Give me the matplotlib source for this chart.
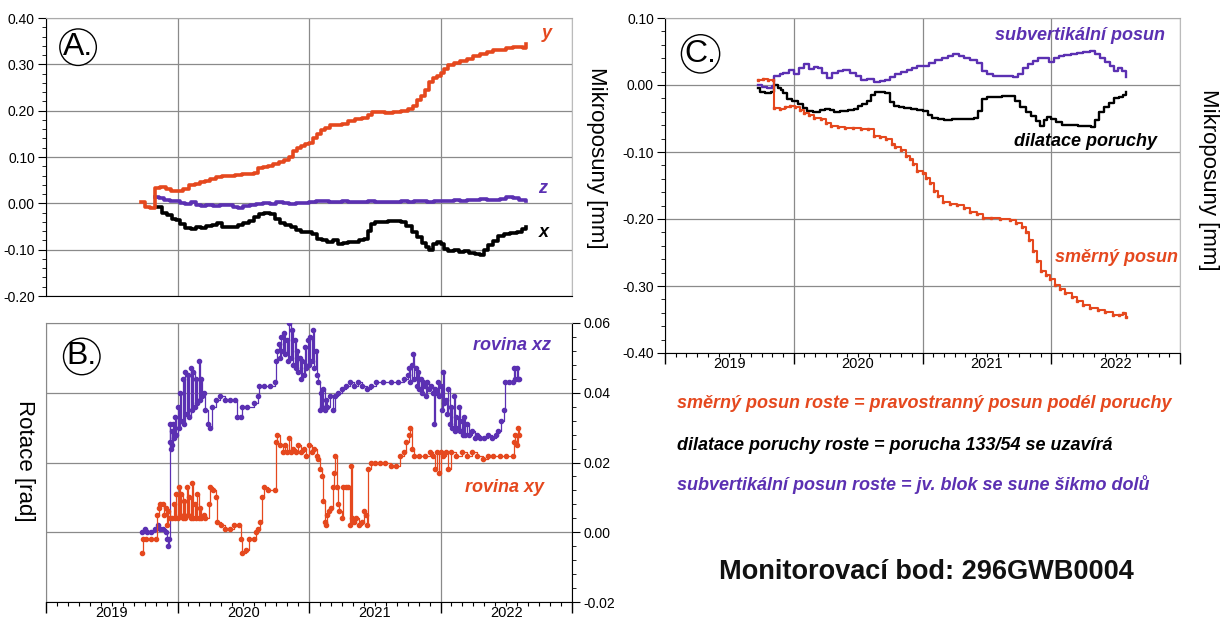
import matplotlib
matplotlib.use("Agg")
import matplotlib.pyplot as plt
from matplotlib.ticker import MultipleLocator, FixedLocator, NullFormatter

plt.rcParams['font.family'] = ['Liberation Sans', 'DejaVu Sans']

ORANGE = '#E5481E'
PURPLE = '#5B30B2'
BLACK = '#000000'
GRID = '#8a8a8a'

YEARS = [2019, 2020, 2021, 2022]
YEAR_LABELS = ['2019', '2020', '2021', '2022']

# ---------------- Panel A: Mikroposuny x, y, z ----------------
A_Y_T = [2019.72, 2019.75, 2019.79, 2019.83, 2019.87, 2019.91, 2019.95, 2019.99, 2020.04, 2020.09,
         2020.13, 2020.17, 2020.21, 2020.25, 2020.29, 2020.34, 2020.39, 2020.44, 2020.49, 2020.54,
         2020.58, 2020.61, 2020.65, 2020.69, 2020.73, 2020.77, 2020.81, 2020.85, 2020.88, 2020.91,
         2020.94, 2020.97, 2021.00, 2021.03, 2021.06, 2021.09, 2021.12, 2021.16, 2021.20, 2021.25,
         2021.30, 2021.35, 2021.40, 2021.45, 2021.48, 2021.53, 2021.58, 2021.64, 2021.70, 2021.75,
         2021.79, 2021.82, 2021.85, 2021.88, 2021.91, 2021.94, 2021.97, 2022.00, 2022.03, 2022.06,
         2022.10, 2022.15, 2022.20, 2022.25, 2022.30, 2022.35, 2022.40, 2022.45, 2022.50, 2022.55,
         2022.60, 2022.63, 2022.65]
A_Y_V = [0.002, -0.008, -0.010, 0.033, 0.035, 0.030, 0.026, 0.027, 0.031, 0.040,
         0.042, 0.046, 0.048, 0.052, 0.057, 0.058, 0.060, 0.062, 0.063, 0.064,
         0.066, 0.076, 0.078, 0.080, 0.085, 0.090, 0.094, 0.100, 0.112, 0.120,
         0.124, 0.127, 0.130, 0.140, 0.150, 0.158, 0.163, 0.168, 0.170, 0.172,
         0.178, 0.182, 0.185, 0.190, 0.198, 0.197, 0.196, 0.197, 0.200, 0.204,
         0.210, 0.222, 0.232, 0.244, 0.262, 0.270, 0.275, 0.281, 0.290, 0.298,
         0.303, 0.307, 0.312, 0.318, 0.323, 0.327, 0.330, 0.332, 0.335, 0.337,
         0.337, 0.336, 0.343]

A_Z_T = [2019.83, 2019.86, 2019.90, 2019.94, 2019.98, 2020.02, 2020.06, 2020.10, 2020.14, 2020.18,
         2020.22, 2020.27, 2020.32, 2020.37, 2020.42, 2020.46, 2020.50, 2020.55, 2020.60, 2020.65,
         2020.70, 2020.75, 2020.80, 2020.85, 2020.90, 2020.95, 2021.00, 2021.05, 2021.10, 2021.15,
         2021.20, 2021.25, 2021.30, 2021.35, 2021.40, 2021.45, 2021.50, 2021.55, 2021.60, 2021.65,
         2021.70, 2021.75, 2021.80, 2021.85, 2021.90, 2021.95, 2022.00, 2022.05, 2022.10, 2022.15,
         2022.20, 2022.25, 2022.30, 2022.35, 2022.40, 2022.45, 2022.50, 2022.55, 2022.60, 2022.65]
A_Z_V = [0.014, 0.012, 0.008, 0.004, 0.006, 0.001, -0.002, 0.002, -0.004, -0.006,
         -0.003, -0.005, -0.003, -0.004, -0.008, -0.010, -0.006, -0.004, -0.002, 0.000,
         -0.001, 0.002, 0.000, -0.002, 0.001, 0.000, 0.003, 0.006, 0.004, 0.003,
         0.002, 0.004, 0.003, 0.002, 0.003, 0.004, 0.003, 0.002, 0.003, 0.002,
         0.005, 0.003, 0.006, 0.004, 0.002, 0.005, 0.006, 0.004, 0.007, 0.005,
         0.008, 0.007, 0.009, 0.008, 0.007, 0.010, 0.013, 0.012, 0.007, 0.004]

A_X_T = [2019.84, 2019.88, 2019.92, 2019.96, 2019.99, 2020.02, 2020.06, 2020.10, 2020.14, 2020.18,
         2020.22, 2020.26, 2020.30, 2020.34, 2020.38, 2020.42, 2020.46, 2020.50, 2020.54, 2020.58,
         2020.62, 2020.66, 2020.70, 2020.74, 2020.78, 2020.82, 2020.86, 2020.90, 2020.94, 2020.98,
         2021.02, 2021.06, 2021.10, 2021.14, 2021.18, 2021.22, 2021.26, 2021.30, 2021.34, 2021.38,
         2021.42, 2021.45, 2021.47, 2021.50, 2021.55, 2021.60, 2021.65, 2021.70, 2021.74, 2021.78,
         2021.82, 2021.86, 2021.89, 2021.91, 2021.94, 2021.97, 2022.00, 2022.03, 2022.06, 2022.10,
         2022.14, 2022.18, 2022.22, 2022.26, 2022.30, 2022.33, 2022.36, 2022.40, 2022.44, 2022.48,
         2022.53, 2022.58, 2022.62, 2022.65]
A_X_V = [-0.008, -0.020, -0.026, -0.033, -0.036, -0.045, -0.053, -0.055, -0.052, -0.054,
         -0.048, -0.046, -0.043, -0.050, -0.052, -0.050, -0.047, -0.043, -0.038, -0.030,
         -0.022, -0.021, -0.024, -0.033, -0.042, -0.046, -0.052, -0.058, -0.062, -0.062,
         -0.066, -0.076, -0.080, -0.084, -0.080, -0.087, -0.086, -0.083, -0.083, -0.080,
         -0.076, -0.060, -0.045, -0.041, -0.040, -0.039, -0.038, -0.040, -0.049, -0.062,
         -0.072, -0.085, -0.095, -0.101, -0.088, -0.083, -0.088, -0.098, -0.102, -0.101,
         -0.104, -0.103, -0.107, -0.109, -0.112, -0.100, -0.090, -0.082, -0.070, -0.066,
         -0.064, -0.062, -0.056, -0.051]

# ---------------- Panel B: Rotace ----------------
B_XZ_T = [2019.73, 2019.75, 2019.77, 2019.80, 2019.83, 2019.85, 2019.87, 2019.89, 2019.91, 2019.92,
          2019.93, 2019.935, 2019.94, 2019.945, 2019.95, 2019.955, 2019.96, 2019.965, 2019.97, 2019.98,
          2019.99, 2020.00, 2020.01, 2020.02, 2020.03, 2020.04, 2020.05, 2020.06, 2020.07, 2020.08,
          2020.09, 2020.10, 2020.11, 2020.12, 2020.13, 2020.14, 2020.15, 2020.16, 2020.17, 2020.18,
          2020.19, 2020.20, 2020.21, 2020.23, 2020.25, 2020.265, 2020.29, 2020.32, 2020.36, 2020.40,
          2020.44, 2020.455, 2020.48, 2020.49, 2020.53, 2020.58, 2020.61, 2020.62, 2020.66, 2020.70,
          2020.74, 2020.75, 2020.76, 2020.77, 2020.78, 2020.79, 2020.80, 2020.81, 2020.82, 2020.83,
          2020.84, 2020.85, 2020.86, 2020.87, 2020.88, 2020.89, 2020.90, 2020.91, 2020.92, 2020.93,
          2020.94, 2020.95, 2020.96, 2020.97, 2020.98, 2020.99, 2021.00, 2021.01, 2021.02, 2021.03,
          2021.04, 2021.05, 2021.06, 2021.07, 2021.08, 2021.09, 2021.10, 2021.11, 2021.12, 2021.13,
          2021.14, 2021.16, 2021.18, 2021.20, 2021.22, 2021.25, 2021.28, 2021.31, 2021.34, 2021.37,
          2021.40, 2021.44, 2021.47, 2021.51, 2021.56, 2021.62, 2021.68, 2021.72, 2021.75, 2021.76,
          2021.77, 2021.78, 2021.79, 2021.80, 2021.81, 2021.82, 2021.83, 2021.84, 2021.85, 2021.86,
          2021.87, 2021.88, 2021.89, 2021.90, 2021.91, 2021.93, 2021.94, 2021.95, 2021.96, 2021.97,
          2021.98, 2021.99, 2022.00, 2022.01, 2022.02, 2022.03, 2022.04, 2022.05, 2022.06, 2022.07,
          2022.08, 2022.09, 2022.10, 2022.11, 2022.12, 2022.13, 2022.14, 2022.15, 2022.16, 2022.17,
          2022.18, 2022.19, 2022.20, 2022.22, 2022.24, 2022.26, 2022.28, 2022.30, 2022.33, 2022.36,
          2022.39, 2022.42, 2022.44, 2022.46, 2022.48, 2022.49, 2022.52, 2022.55, 2022.56, 2022.57,
          2022.58, 2022.59, 2022.60]
B_XZ_V = [0.000, 0.001, 0.000, 0.000, 0.001, 0.002, 0.001, 0.001, 0.000, -0.002,
          -0.004, -0.002, 0.031, 0.026, 0.024, 0.029, 0.025, 0.031, 0.027, 0.033,
          0.028, 0.036, 0.030, 0.040, 0.032, 0.044, 0.031, 0.046, 0.034, 0.045,
          0.033, 0.047, 0.035, 0.046, 0.036, 0.044, 0.037, 0.049, 0.038, 0.044,
          0.039, 0.040, 0.035, 0.031, 0.030, 0.036, 0.038, 0.039, 0.038, 0.038,
          0.038, 0.033, 0.033, 0.036, 0.036, 0.037, 0.039, 0.042, 0.042, 0.042,
          0.043, 0.049, 0.052, 0.054, 0.050, 0.056, 0.052, 0.057, 0.051, 0.055,
          0.049, 0.060, 0.050, 0.058, 0.048, 0.055, 0.047, 0.052, 0.046, 0.050,
          0.044, 0.049, 0.045, 0.053, 0.047, 0.055, 0.048, 0.056, 0.049, 0.058,
          0.047, 0.052, 0.045, 0.043, 0.035, 0.040, 0.036, 0.041, 0.035, 0.038,
          0.036, 0.039, 0.035, 0.039, 0.040, 0.041, 0.042, 0.043, 0.042, 0.043,
          0.042, 0.041, 0.042, 0.043, 0.043, 0.043, 0.043, 0.044, 0.045, 0.047,
          0.043, 0.048, 0.051, 0.044, 0.047, 0.042, 0.046, 0.041, 0.044, 0.040,
          0.043, 0.042, 0.039, 0.043, 0.041, 0.042, 0.040, 0.031, 0.041, 0.040,
          0.043, 0.039, 0.042, 0.035, 0.046, 0.037, 0.038, 0.034, 0.041, 0.031,
          0.036, 0.030, 0.039, 0.029, 0.033, 0.030, 0.036, 0.029, 0.032, 0.028,
          0.033, 0.028, 0.031, 0.028, 0.029, 0.027, 0.028, 0.027, 0.027, 0.028,
          0.027, 0.028, 0.029, 0.032, 0.035, 0.043, 0.043, 0.043, 0.047, 0.044,
          0.047, 0.044, 0.044]

B_XY_T = [2019.73, 2019.735, 2019.76, 2019.80, 2019.84, 2019.845, 2019.86, 2019.87, 2019.89, 2019.90,
          2019.91, 2019.92, 2019.93, 2019.94, 2019.96, 2019.97, 2019.98, 2019.99, 2020.00, 2020.01,
          2020.02, 2020.03, 2020.04, 2020.05, 2020.06, 2020.07, 2020.08, 2020.09, 2020.10, 2020.11,
          2020.12, 2020.13, 2020.14, 2020.15, 2020.16, 2020.17, 2020.18, 2020.20, 2020.21, 2020.24,
          2020.25, 2020.27, 2020.29, 2020.30, 2020.33, 2020.36, 2020.40, 2020.43, 2020.47, 2020.48,
          2020.49, 2020.52, 2020.54, 2020.58, 2020.60, 2020.61, 2020.63, 2020.64, 2020.66, 2020.69,
          2020.74, 2020.75, 2020.76, 2020.78, 2020.80, 2020.82, 2020.83, 2020.85, 2020.86, 2020.88,
          2020.90, 2020.92, 2020.94, 2020.96, 2020.98, 2021.00, 2021.02, 2021.04, 2021.06, 2021.07,
          2021.08, 2021.10, 2021.11, 2021.12, 2021.13, 2021.14, 2021.15, 2021.17, 2021.18, 2021.19,
          2021.20, 2021.21, 2021.22, 2021.23, 2021.25, 2021.26, 2021.28, 2021.30, 2021.31, 2021.32,
          2021.33, 2021.34, 2021.36, 2021.38, 2021.40, 2021.42, 2021.43, 2021.44, 2021.45, 2021.47,
          2021.50, 2021.54, 2021.58, 2021.62, 2021.66, 2021.69, 2021.72, 2021.74, 2021.76, 2021.77,
          2021.78, 2021.80, 2021.84, 2021.88, 2021.92, 2021.94, 2021.96, 2021.97, 2021.99, 2022.00,
          2022.02, 2022.04, 2022.06, 2022.08, 2022.12, 2022.16, 2022.20, 2022.24, 2022.28, 2022.32,
          2022.36, 2022.40, 2022.45, 2022.50, 2022.55, 2022.56, 2022.57, 2022.58, 2022.59, 2022.60]
B_XY_V = [-0.006, -0.002, -0.002, -0.002, -0.002, 0.005, 0.007, 0.008, 0.008, 0.005,
          0.007, 0.002, 0.006, 0.004, 0.004, 0.008, 0.004, 0.011, 0.004, 0.013,
          0.005, 0.011, 0.004, 0.009, 0.004, 0.013, 0.005, 0.010, 0.004, 0.014,
          0.004, 0.008, 0.004, 0.011, 0.004, 0.007, 0.004, 0.005, 0.004, 0.008,
          0.013, 0.012, 0.010, 0.003, 0.002, 0.001, 0.001, 0.002, 0.002, -0.002,
          -0.006, -0.005, -0.002, -0.002, 0.000, 0.001, 0.003, 0.010, 0.013, 0.012,
          0.012, 0.026, 0.028, 0.025, 0.023, 0.025, 0.023, 0.027, 0.023, 0.024,
          0.023, 0.025, 0.023, 0.024, 0.022, 0.025, 0.023, 0.024, 0.022, 0.021,
          0.018, 0.016, 0.009, 0.003, 0.002, 0.005, 0.006, 0.007, 0.013, 0.017,
          0.022, 0.013, 0.008, 0.006, 0.004, 0.013, 0.013, 0.013, 0.002, 0.019,
          0.004, 0.003, 0.004, 0.002, 0.003, 0.006, 0.005, 0.002, 0.018, 0.020,
          0.020, 0.020, 0.020, 0.019, 0.019, 0.022, 0.023, 0.026, 0.028, 0.030,
          0.024, 0.022, 0.022, 0.022, 0.023, 0.022, 0.018, 0.023, 0.017, 0.023,
          0.022, 0.023, 0.018, 0.023, 0.022, 0.023, 0.022, 0.023, 0.022, 0.021,
          0.022, 0.022, 0.022, 0.022, 0.022, 0.026, 0.028, 0.025, 0.030, 0.028]

# ---------------- Panel C: transformed displacements ----------------
C_SV_T = [2019.72, 2019.75, 2019.79, 2019.83, 2019.85, 2019.89, 2019.92, 2019.96, 2020.00, 2020.04,
          2020.08, 2020.12, 2020.16, 2020.19, 2020.22, 2020.26, 2020.30, 2020.34, 2020.38, 2020.44,
          2020.48, 2020.52, 2020.57, 2020.62, 2020.67, 2020.71, 2020.75, 2020.79, 2020.83, 2020.88,
          2020.92, 2020.96, 2021.00, 2021.05, 2021.10, 2021.15, 2021.20, 2021.24, 2021.28, 2021.32,
          2021.37, 2021.42, 2021.46, 2021.50, 2021.55, 2021.60, 2021.65, 2021.70, 2021.74, 2021.78,
          2021.82, 2021.86, 2021.90, 2021.94, 2021.98, 2022.02, 2022.06, 2022.10, 2022.15, 2022.20,
          2022.25, 2022.30, 2022.34, 2022.38, 2022.42, 2022.46, 2022.49, 2022.52, 2022.55, 2022.58]
C_SV_V = [0.000, -0.003, -0.004, -0.002, 0.013, 0.016, 0.018, 0.023, 0.016, 0.026,
          0.031, 0.024, 0.027, 0.025, 0.018, 0.011, 0.018, 0.021, 0.023, 0.018,
          0.013, 0.008, 0.009, 0.005, 0.006, 0.007, 0.012, 0.016, 0.020, 0.023,
          0.026, 0.028, 0.028, 0.033, 0.038, 0.041, 0.044, 0.046, 0.043, 0.041,
          0.037, 0.033, 0.021, 0.016, 0.014, 0.013, 0.014, 0.012, 0.016, 0.025,
          0.031, 0.036, 0.041, 0.040, 0.035, 0.041, 0.044, 0.045, 0.046, 0.048,
          0.049, 0.051, 0.046, 0.041, 0.035, 0.028, 0.021, 0.026, 0.021, 0.012]

C_DIL_T = [2019.72, 2019.74, 2019.78, 2019.82, 2019.85, 2019.88, 2019.90, 2019.92, 2019.95, 2019.99,
           2020.03, 2020.07, 2020.10, 2020.15, 2020.20, 2020.24, 2020.28, 2020.31, 2020.36, 2020.42,
           2020.47, 2020.50, 2020.53, 2020.57, 2020.60, 2020.63, 2020.67, 2020.71, 2020.75, 2020.78,
           2020.82, 2020.86, 2020.91, 2020.96, 2021.00, 2021.04, 2021.07, 2021.12, 2021.17, 2021.23,
           2021.29, 2021.34, 2021.40, 2021.43, 2021.46, 2021.50, 2021.56, 2021.62, 2021.68, 2021.72,
           2021.76, 2021.80, 2021.84, 2021.88, 2021.91, 2021.94, 2021.97, 2022.00, 2022.04, 2022.08,
           2022.12, 2022.16, 2022.21, 2022.26, 2022.31, 2022.34, 2022.37, 2022.41, 2022.45, 2022.49,
           2022.53, 2022.56, 2022.58]
C_DIL_V = [-0.005, -0.011, -0.012, -0.011, 0.000, -0.005, -0.008, -0.012, -0.021, -0.024,
           -0.029, -0.034, -0.039, -0.040, -0.037, -0.036, -0.038, -0.041, -0.039, -0.037,
           -0.036, -0.031, -0.029, -0.024, -0.015, -0.011, -0.010, -0.012, -0.025, -0.031,
           -0.033, -0.034, -0.036, -0.038, -0.039, -0.045, -0.049, -0.051, -0.052, -0.051,
           -0.051, -0.050, -0.049, -0.039, -0.021, -0.018, -0.018, -0.017, -0.017, -0.024,
           -0.033, -0.040, -0.046, -0.053, -0.061, -0.052, -0.048, -0.050, -0.055, -0.059,
           -0.060, -0.060, -0.061, -0.061, -0.062, -0.052, -0.041, -0.033, -0.027, -0.020,
           -0.018, -0.015, -0.011]

C_SM_T = [2019.72, 2019.76, 2019.80, 2019.84, 2019.85, 2019.89, 2019.93, 2019.97, 2020.01, 2020.05,
          2020.08, 2020.12, 2020.16, 2020.21, 2020.25, 2020.29, 2020.34, 2020.40, 2020.46, 2020.52,
          2020.58, 2020.62, 2020.67, 2020.72, 2020.76, 2020.79, 2020.83, 2020.87, 2020.90, 2020.93,
          2020.96, 2021.00, 2021.03, 2021.06, 2021.09, 2021.12, 2021.16, 2021.21, 2021.27, 2021.32,
          2021.37, 2021.42, 2021.47, 2021.53, 2021.60, 2021.68, 2021.73, 2021.77, 2021.80, 2021.83,
          2021.86, 2021.89, 2021.92, 2021.96, 2021.99, 2022.03, 2022.07, 2022.11, 2022.16, 2022.20,
          2022.25, 2022.30, 2022.36, 2022.42, 2022.48, 2022.53, 2022.56, 2022.58]
C_SM_V = [0.008, 0.009, 0.008, 0.008, -0.034, -0.036, -0.033, -0.032, -0.033, -0.038,
          -0.042, -0.045, -0.049, -0.051, -0.057, -0.061, -0.063, -0.064, -0.064, -0.065,
          -0.065, -0.076, -0.078, -0.080, -0.088, -0.092, -0.097, -0.106, -0.111, -0.118,
          -0.128, -0.132, -0.139, -0.147, -0.158, -0.166, -0.175, -0.177, -0.179, -0.184,
          -0.189, -0.193, -0.199, -0.199, -0.200, -0.201, -0.206, -0.212, -0.220, -0.232,
          -0.248, -0.262, -0.277, -0.284, -0.290, -0.298, -0.305, -0.311, -0.317, -0.322,
          -0.328, -0.333, -0.336, -0.339, -0.343, -0.344, -0.341, -0.346]

for a, b in [(A_Y_T, A_Y_V), (A_Z_T, A_Z_V), (A_X_T, A_X_V), (B_XZ_T, B_XZ_V), (B_XY_T, B_XY_V),
             (C_SV_T, C_SV_V), (C_DIL_T, C_DIL_V), (C_SM_T, C_SM_V)]:
    assert len(a) == len(b), (len(a), len(b))

W, H = 1220, 622
fig = plt.figure(figsize=(W / 100, H / 100), dpi=100)


def rect(l, t, r, b):
    return [l / W, 1 - b / H, (r - l) / W, (b - t) / H]


axA = fig.add_axes(rect(46, 18, 572, 296))
axB = fig.add_axes(rect(46, 323, 572, 602))
axC = fig.add_axes(rect(665, 18, 1180, 353))

TICKFS = 10
month_ticks = [y + m / 12 for y in range(2019, 2023) for m in range(1, 12)]


def style_time_axis(ax, show_labels):
    ax.set_xlim(2019, 2023)
    ax.xaxis.set_major_locator(FixedLocator(YEARS + [2023]))
    ax.xaxis.set_major_formatter(NullFormatter())
    ax.grid(True, axis='x', color=GRID, lw=0.9)
    if show_labels:
        ax.xaxis.set_minor_locator(FixedLocator(month_ticks))
        ax.tick_params(axis='x', which='major', length=8, width=1, direction='out')
        ax.tick_params(axis='x', which='minor', length=3, width=0.8, direction='out')
        sec = ax.secondary_xaxis('bottom')
        sec.set_xticks([y + 0.5 for y in YEARS], YEAR_LABELS)
        sec.tick_params(length=0, pad=3, labelsize=10.5)
        sec.spines['bottom'].set_visible(False)
    else:
        ax.tick_params(axis='x', which='both', length=0)


def circle_label(ax, txt, x, y):
    ax.text(x, y, txt, transform=ax.transAxes, fontsize=23, ha='center', va='center',
            bbox=dict(boxstyle='circle,pad=0.1', fc='white', ec='black', lw=1.0), zorder=6)


# ----- Panel A -----
axA.plot(A_X_T, A_X_V, color=BLACK, lw=2.6, drawstyle='steps-post', zorder=3)
axA.plot(A_Z_T, A_Z_V, color=PURPLE, lw=2.6, drawstyle='steps-post', zorder=3)
axA.plot(A_Y_T, A_Y_V, color=ORANGE, lw=2.6, drawstyle='steps-post', zorder=4)
axA.set_ylim(-0.20, 0.40)
axA.yaxis.set_major_locator(MultipleLocator(0.1))
axA.yaxis.set_minor_locator(MultipleLocator(0.02))
axA.yaxis.set_major_formatter(lambda v, p: f"{v:.2f}")
axA.tick_params(axis='y', which='major', length=6, labelsize=TICKFS, pad=2)
axA.tick_params(axis='y', which='minor', length=3)
axA.grid(True, axis='y', color=GRID, lw=0.9)
style_time_axis(axA, False)
axA.spines['top'].set_color('#aaaaaa')
axA.spines['right'].set_color('#bbbbbb')
circle_label(axA, 'A.', 0.061, 0.895)
axA.text(0.952, 0.945, 'y', transform=axA.transAxes, color=ORANGE, fontsize=13,
         style='italic', weight='bold', ha='center', va='center')
axA.text(0.945, 0.385, 'z', transform=axA.transAxes, color=PURPLE, fontsize=13,
         style='italic', weight='bold', ha='center', va='center')
axA.text(0.947, 0.230, 'x', transform=axA.transAxes, color=BLACK, fontsize=13,
         style='italic', weight='bold', ha='center', va='center')
fig.text(596 / W, 1 - 158 / H, 'Mikroposuny [mm]', rotation=-90, fontsize=16,
         ha='center', va='center')

# ----- Panel B -----
axB.plot(B_XZ_T, B_XZ_V, color=PURPLE, lw=0.9, drawstyle='steps-post', marker='o', ms=3.0,
         zorder=3)
axB.plot(B_XY_T, B_XY_V, color=ORANGE, lw=0.9, drawstyle='steps-post', marker='o', ms=3.0,
         zorder=4)
axB.set_ylim(-0.02, 0.06)
axB.yaxis.tick_right()
axB.yaxis.set_major_locator(MultipleLocator(0.02))
axB.yaxis.set_minor_locator(MultipleLocator(0.004))
axB.yaxis.set_major_formatter(lambda v, p: f"{v:.2f}")
axB.tick_params(axis='y', which='major', length=6, labelsize=TICKFS, pad=2)
axB.tick_params(axis='y', which='minor', length=3)
axB.grid(True, axis='y', color=GRID, lw=0.9)
style_time_axis(axB, True)
axB.spines['top'].set_color('#888888')
axB.spines['left'].set_color('#888888')
circle_label(axB, 'B.', 0.068, 0.88)
axB.text(0.886, 0.92, 'rovina xz', transform=axB.transAxes, color=PURPLE, fontsize=13,
         style='italic', weight='bold', ha='center', va='center')
axB.text(0.871, 0.411, 'rovina xy', transform=axB.transAxes, color=ORANGE, fontsize=13,
         style='italic', weight='bold', ha='center', va='center')
fig.text(24 / W, 1 - 461 / H, 'Rotace [rad]', rotation=-90, fontsize=16,
         ha='center', va='center')

# ----- Panel C -----
axC.plot(C_DIL_T, C_DIL_V, color=BLACK, lw=1.7, drawstyle='steps-post', zorder=3)
axC.plot(C_SV_T, C_SV_V, color=PURPLE, lw=1.7, drawstyle='steps-post', zorder=3)
axC.plot(C_SM_T, C_SM_V, color=ORANGE, lw=1.5, drawstyle='steps-post', marker='s', ms=1.8,
         zorder=4)
axC.set_ylim(-0.40, 0.10)
axC.yaxis.set_major_locator(MultipleLocator(0.1))
axC.yaxis.set_minor_locator(MultipleLocator(0.02))
axC.yaxis.set_major_formatter(lambda v, p: f"{v:.2f}")
axC.tick_params(axis='y', which='major', length=6, labelsize=TICKFS, pad=2)
axC.tick_params(axis='y', which='minor', length=3)
axC.grid(True, axis='y', color=GRID, lw=0.9)
style_time_axis(axC, True)
axC.spines['top'].set_color('#aaaaaa')
axC.spines['right'].set_color('#bbbbbb')
circle_label(axC, 'C.', 0.069, 0.893)
axC.text(0.806, 0.949, 'subvertikální posun', transform=axC.transAxes, color=PURPLE,
         fontsize=13, style='italic', weight='bold', ha='center', va='center')
axC.text(0.817, 0.630, 'dilatace poruchy', transform=axC.transAxes, color=BLACK,
         fontsize=13, style='italic', weight='bold', ha='center', va='center')
axC.text(0.876, 0.284, 'směrný posun', transform=axC.transAxes, color=ORANGE,
         fontsize=13, style='italic', weight='bold', ha='center', va='center')
fig.text(1209 / W, 1 - 180 / H, 'Mikroposuny [mm]', rotation=-90, fontsize=16,
         ha='center', va='center')

# ----- Notes -----
NOTES = [
    ('směrný posun roste = pravostranný posun podél poruchy', ORANGE, 403),
    ('dilatace poruchy roste = porucha 133/54 se uzavírá', BLACK, 445),
    ('subvertikální posun roste = jv. blok se sune šikmo dolů', PURPLE, 485),
]
for txt, col, ypx in NOTES:
    fig.text(677 / W, 1 - ypx / H, txt, color=col, fontsize=13, style='italic',
             weight='bold', ha='left', va='center')
fig.text(926 / W, 1 - 572 / H, 'Monitorovací bod: 296GWB0004', fontsize=19.5,
         weight='bold', ha='center', va='center', color='#111111')

fig.savefig('out.png', dpi=100)
